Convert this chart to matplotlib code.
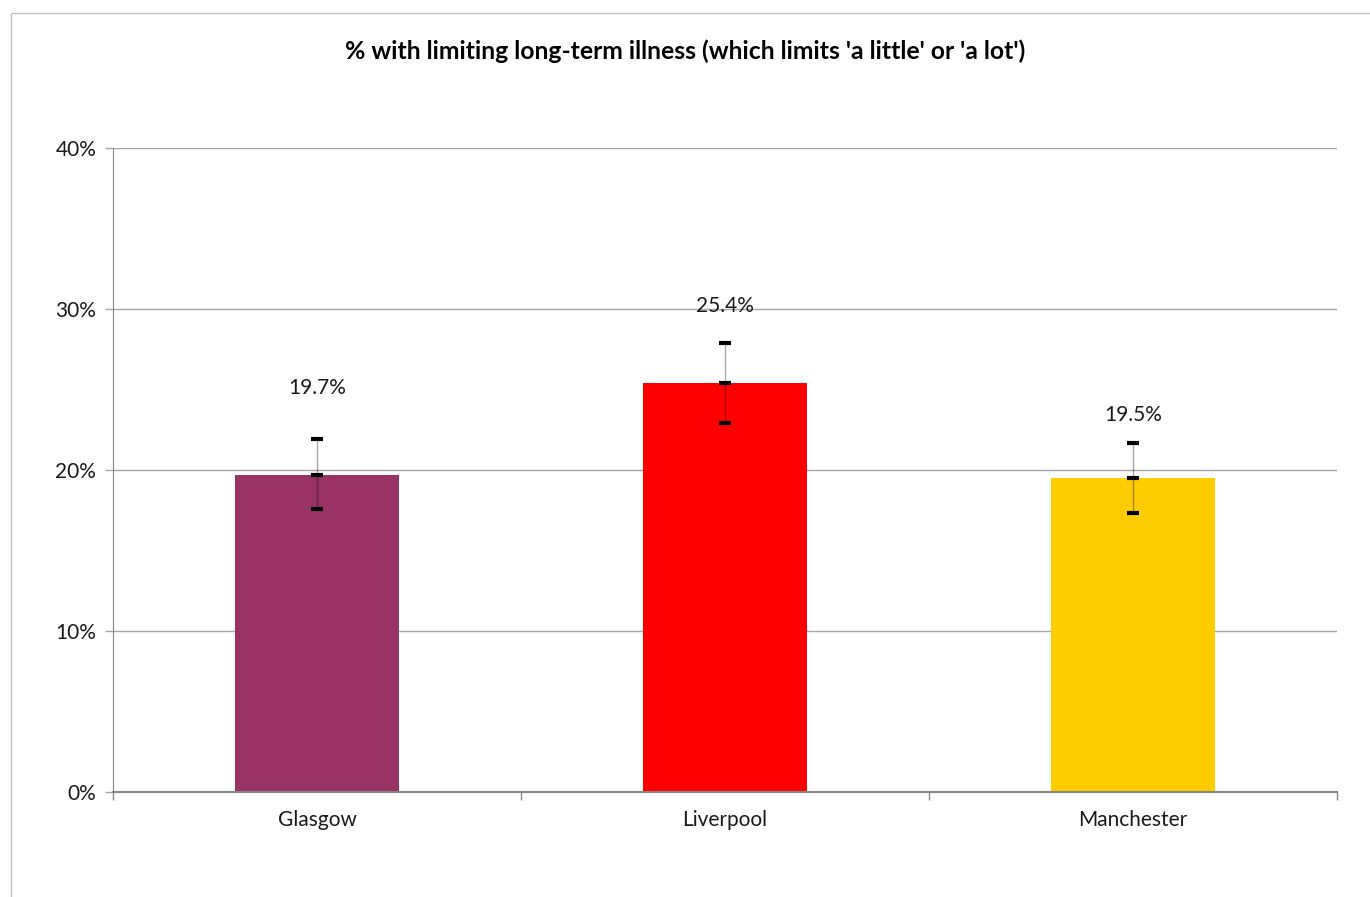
import matplotlib.pyplot as plt
import matplotlib.patches as mpatches
from matplotlib.ticker import PercentFormatter, FixedLocator, NullFormatter

plt.rcParams['font.family'] = ['Lato', 'DejaVu Sans']

cities = ['Glasgow', 'Liverpool', 'Manchester']
values = [19.7, 25.4, 19.5]
err_low = [17.6, 22.9, 17.3]
err_high = [21.9, 27.9, 21.7]
bar_colors = ['#993366', '#FF0000', '#FFCC00']
# label offset above the upper error bar (points)
label_pad = [30, 19, 13]

fig = plt.figure(figsize=(13.70, 8.97), dpi=100)
ax = fig.add_axes([113 / 1370, 1 - 792 / 897, (1337 - 113) / 1370, (792 - 148) / 897])

x = list(range(len(cities)))
ax.bar(x, values, width=0.4, color=bar_colors, zorder=2)

for xi, v, lo, hi, pad in zip(x, values, err_low, err_high, label_pad):
    ax.plot([xi, xi], [lo, hi], color='black', alpha=0.35, lw=1, zorder=3)
    for yy in (lo, v, hi):
        ax.plot([xi - 0.014, xi + 0.014], [yy, yy], color='black', lw=3,
                solid_capstyle='butt', zorder=4)
    ax.annotate(f'{v:.1f}%', (xi, hi), xytext=(0, pad), textcoords='offset points',
                ha='center', va='bottom', fontsize=15, color='#1a1a1a')

ax.set_xlim(-0.5, 2.5)
ax.set_ylim(0, 40)
ax.set_yticks([0, 10, 20, 30, 40])
ax.yaxis.set_major_formatter(PercentFormatter(decimals=0))
ax.yaxis.grid(True, color='#a6a6a6', lw=1)
ax.set_axisbelow(True)

ax.set_xticks(x)
ax.set_xticklabels(cities)
ax.tick_params(axis='x', length=0, pad=13, labelsize=15, labelcolor='#1a1a1a')
ax.xaxis.set_minor_locator(FixedLocator([-0.5, 0.5, 1.5, 2.5]))
ax.xaxis.set_minor_formatter(NullFormatter())
ax.tick_params(axis='x', which='minor', length=6, color='#868686', width=1)
ax.tick_params(axis='y', length=6, color='#a6a6a6', width=1, pad=6,
               labelsize=15, labelcolor='#1a1a1a')

for side in ('top', 'right'):
    ax.spines[side].set_visible(False)
ax.spines['left'].set_color('#868686')
ax.spines['bottom'].set_color('#868686')
ax.spines['bottom'].set_linewidth(1.5)

fig.text(685 / 1370, 1 - 51 / 897,
         "% with limiting long-term illness (which limits 'a little' or 'a lot')",
         ha='center', va='center', fontsize=17.8, fontweight='bold', color='black')

# outer chart-area border
border = mpatches.Rectangle((11 / 1370, -0.1), 1.2, 1 - 13 / 897 + 0.1,
                            transform=fig.transFigure, fill=False,
                            edgecolor='#c0c0c0', lw=1)
fig.patches.append(border)

fig.savefig('out.png', dpi=100)
